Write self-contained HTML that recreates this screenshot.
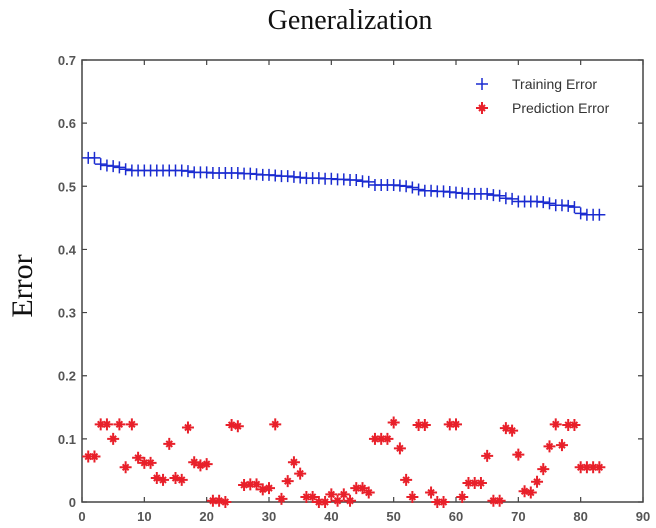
<!DOCTYPE html>
<html><head><meta charset="utf-8"><style>
body{margin:0;background:#fff;width:656px;height:528px;overflow:hidden}
svg{display:block}
.tk{font-family:"Liberation Sans",sans-serif;font-size:13px;fill:#555;font-weight:bold}
</style></head><body>
<svg id="chart" width="656" height="528" viewBox="0 0 656 528">
<text x="350" y="29" text-anchor="middle" font-family="Liberation Serif,serif" font-size="28" fill="#111">Generalization</text>
<text transform="translate(32,286) rotate(-90)" text-anchor="middle" font-family="Liberation Serif,serif" font-size="30" fill="#111">Error</text>
<rect x="82" y="60" width="561" height="442" fill="none" stroke="#444" stroke-width="1.5"/>
<g id="axes"></g>
<g id="train"></g>
<g id="pred"></g>
<g>
<path d="M476 84h12M482 78v12" stroke="#1a2bd0" stroke-width="1.5"/>
<text x="512" y="89" font-family="Liberation Sans,sans-serif" font-size="14" fill="#333">Training Error</text>
<path d="M476 108h12M482 102v12M479 105l6 6M485 105l-6 6" stroke="#e8202a" stroke-width="2"/>
<text x="512" y="113" font-family="Liberation Sans,sans-serif" font-size="14" fill="#333">Prediction Error</text>
</g>
</svg>
<script>
const xTicks=[0,10,20,30,40,50,60,70,80,90];
const yTicks=[0,0.1,0.2,0.3,0.4,0.5,0.6,0.7];
const yTickLabels=["0","0.1","0.2","0.3","0.4","0.5","0.6","0.7"];
const trainX=[1,2,3,4,5,6,7,8,9,10,11,12,13,14,15,16,17,18,19,20,21,22,23,24,25,26,27,28,29,30,31,32,33,34,35,36,37,38,39,40,41,42,43,44,45,46,47,48,49,50,51,52,53,54,55,56,57,58,59,60,61,62,63,64,65,66,67,68,69,70,71,72,73,74,75,76,77,78,79,80,81,82,83];
const trainY=[.545,.545,.535,.533,.532,.530,.527,.525,.525,.525,.525,.525,.525,.525,.525,.525,.524,.522,.522,.522,.521,.521,.521,.521,.521,.520,.520,.519,.518,.518,.517,.516,.516,.515,.514,.513,.513,.513,.512,.512,.511,.511,.510,.510,.508,.507,.502,.502,.502,.502,.501,.500,.498,.495,.493,.493,.492,.492,.491,.490,.489,.488,.488,.488,.488,.486,.485,.481,.480,.476,.476,.476,.476,.475,.473,.470,.470,.469,.467,.457,.455,.455,.455];
const predY=[.072,.072,.123,.123,.100,.123,.055,.123,.070,.062,.062,.038,.035,.092,.038,.035,.118,.063,.058,.060,.002,.002,0,.122,.120,.027,.028,.028,.020,.022,.123,.005,.033,.063,.045,.008,.008,0,0,.012,.002,.012,.002,.022,.022,.015,.100,.100,.100,.126,.085,.035,.008,.122,.122,.015,0,0,.123,.123,.008,.030,.030,.030,.073,.002,.002,.117,.113,.075,.017,.015,.032,.052,.088,.123,.090,.122,.122,.055,.055,.055,.055];
const X0=82,X1=643,Y0=502,Y1=60;
const sx=v=>X0+(v-0)/(90-0)*(X1-X0);
const sy=v=>Y0-(v-0)/(0.7-0)*(Y0-Y1);
const NS="http://www.w3.org/2000/svg";
function mk(t,a,p){const e=document.createElementNS(NS,t);for(const k in a)e.setAttribute(k,a[k]);p.appendChild(e);return e;}
const ax=document.getElementById('axes');
xTicks.forEach((t,i)=>{const x=sx(t);
 const l=mk('path',{d:`M${x} ${Y0}v-5M${x} ${Y1}v5`,stroke:'#444','stroke-width':1.2},ax);
 
 
 const tx=mk('text',{x:x,y:Y0+19,'text-anchor':'middle',class:'tk'},ax);tx.textContent=t;
 
 });
yTicks.forEach((t,i)=>{const y=sy(t);
 const l=mk('path',{d:`M${X0} ${y}h5M${X1} ${y}h-5`,stroke:'#444','stroke-width':1.2},ax);
 
 
 const tx=mk('text',{x:X0-6,y:y+5,'text-anchor':'end',class:'tk'},ax);tx.textContent=yTickLabels[i];
 
 });
const tg=document.getElementById('train');
trainX.forEach((xv,i)=>{const x=sx(xv),y=sy(trainY[i]);
 const p=mk('path',{d:`M${x-6} ${y}h12M${x} ${y-6}v12`,stroke:'#1a2bd0','stroke-width':1.5},tg);
 
 });
const pg=document.getElementById('pred');
trainX.forEach((xv,i)=>{const x=sx(xv),y=sy(predY[i]);
 const p=mk('path',{d:`M${x-6} ${y}h12M${x} ${y-6}v12M${x-3} ${y-3}l6 6M${x+3} ${y-3}l-6 6`,stroke:'#e8202a','stroke-width':2},pg);
 
 });
</script>
</body></html>
